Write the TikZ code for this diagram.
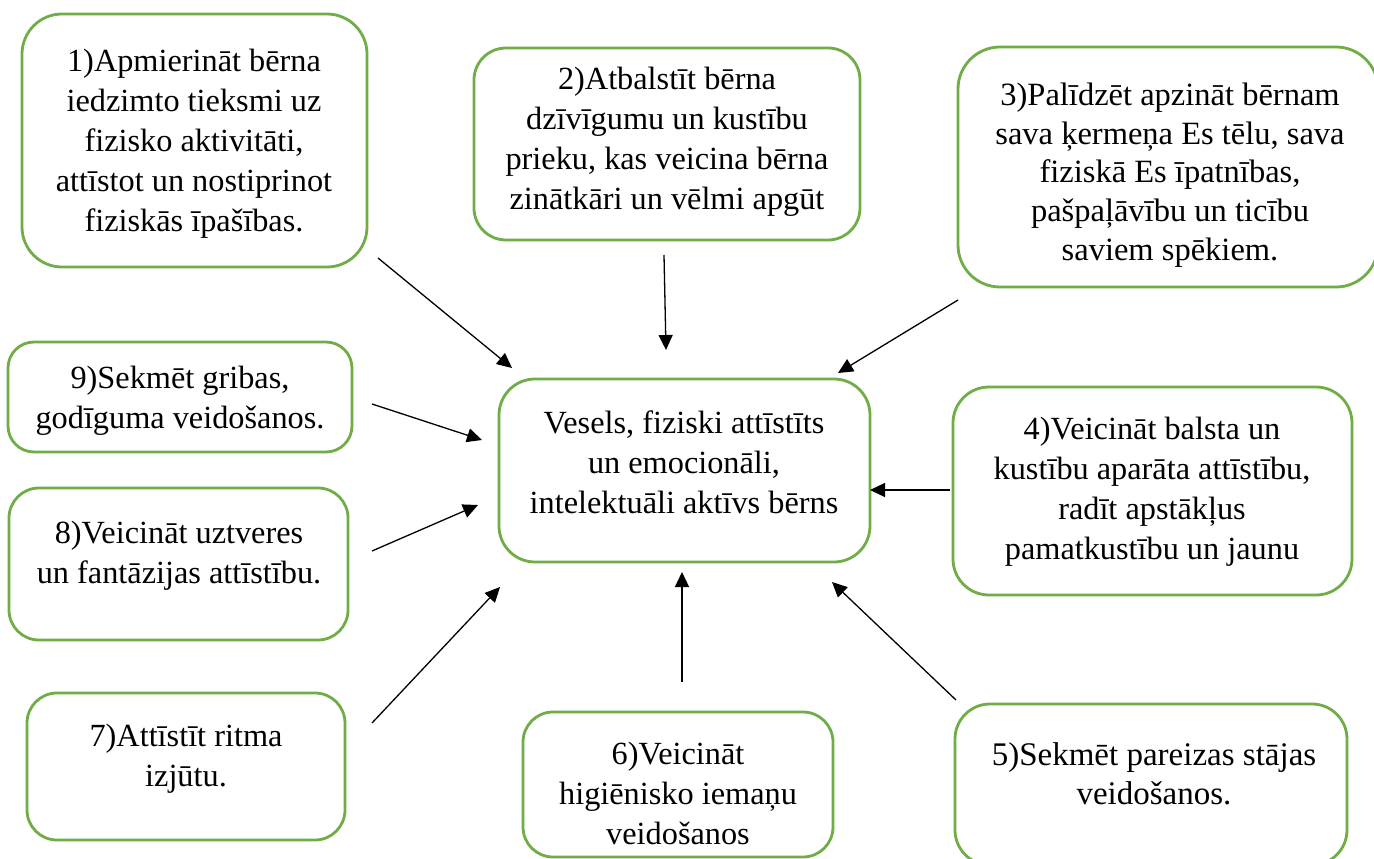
\documentclass[tikz,border=0pt]{standalone}
\usepackage{fontspec}
\setmainfont{Liberation Serif}
\usetikzlibrary{arrows.meta}
\definecolor{boxgreen}{HTML}{70AD47}
\tikzset{
  box/.style={draw=boxgreen, line width=2.8pt, fill=white, inner sep=0pt, rectangle},
  txt/.style={align=center, inner sep=0pt, font=\fontsize{32.3}{40}\selectfont},
  txtthree/.style={align=center, inner sep=0pt, font=\fontsize{32.5}{38.7}\selectfont},
  txtmid/.style={align=center, inner sep=0pt, font=\fontsize{33}{39.5}\selectfont},
  arr/.style={line width=1.3pt, -{Triangle[length=15pt,width=14pt]}}
}
\begin{document}
\begin{tikzpicture}[x=1pt,y=-1pt]
\clip (0,0) rectangle (1374,859);
\fill[white] (0,0) rectangle (1374,859);
% boxes
\node[box, minimum width=345pt, minimum height=253pt, rounded corners=40pt] (b1) at (194.5,140.5) {};
\node[box, minimum width=386pt, minimum height=192pt, rounded corners=32pt] (b2) at (667,144) {};
\node[box, minimum width=420pt, minimum height=240pt, rounded corners=42pt] (b3) at (1168,167) {};
\node[box, minimum width=371pt, minimum height=183pt, rounded corners=36pt] (bc) at (684.5,470.5) {};
\node[box, minimum width=399pt, minimum height=208pt, rounded corners=36pt] (b4) at (1152.5,491) {};
\node[box, minimum width=344pt, minimum height=110pt, rounded corners=26pt] (b9) at (180,397) {};
\node[box, minimum width=339pt, minimum height=152pt, rounded corners=30pt] (b8) at (178.5,564) {};
\node[box, minimum width=318pt, minimum height=147pt, rounded corners=30pt] (b7) at (186,766.5) {};
\node[box, minimum width=310pt, minimum height=145pt, rounded corners=30pt] (b6) at (678,784.5) {};
\node[box, minimum width=392pt, minimum height=161pt, rounded corners=35pt] (b5) at (1151,784.5) {};
% texts
\node[txt] (t1) at (194,144) {1)Apmierināt bērna\\iedzimto tieksmi uz\\fizisko aktivitāti,\\attīstot un nostiprinot\\fiziskās īpašības.};
\node[txt] (t2) at (667,142) {2)Atbalstīt bērna\\dzīvīgumu un kustību\\prieku, kas veicina bērna\\zinātkāri un vēlmi apgūt};
\node[txtthree] (t3) at (1170,175) {3)Palīdzēt apzināt bērnam\\sava ķermeņa Es tēlu, sava\\fiziskā Es īpatnības,\\pašpaļāvību un ticību\\saviem spēkiem.};
\node[txt] (tc) at (684,462) {Vesels, fiziski attīstīts\\un emocionāli,\\intelektuāli aktīvs bērns};
\node[txt] (t4) at (1152,492) {4)Veicināt balsta un\\kustību aparāta attīstību,\\radīt apstākļus\\pamatkustību un jaunu};
\node[txt] (t9) at (180,401) {9)Sekmēt gribas,\\godīguma veidošanos.};
\node[txt] (t8) at (179,556) {8)Veicināt uztveres\\un fantāzijas attīstību.};
\node[txt] (t7) at (186,759) {7)Attīstīt ritma\\izjūtu.};
\node[txt] (t6) at (678,793) {6)Veicināt\\higiēnisko iemaņu\\veidošanos};
\node[txtmid] (t5) at (1154,774) {5)Sekmēt pareizas stājas\\veidošanos.};
% arrow end points
\coordinate (s1) at (378,258);  \coordinate (e1) at (512,368);
\coordinate (s2) at (664,255);  \coordinate (e2) at (666,350);
\coordinate (s3) at (958,300);  \coordinate (e3) at (838,373);
\coordinate (s9) at (372,404);  \coordinate (e9) at (482,440);
\coordinate (s8) at (372,551);  \coordinate (e8) at (478,505);
\coordinate (s7) at (372,723);  \coordinate (e7) at (500,587);
\coordinate (s6) at (682,682);  \coordinate (e6) at (682,572);
\coordinate (s5) at (956,700);  \coordinate (e5) at (832,582);
\coordinate (s4) at (950,490);  \coordinate (e4) at (870,490);
\foreach \i in {1,2,3,4,5,6,7,8,9} {
  \draw[arr] (s\i) -- (e\i);
}
\end{tikzpicture}
\end{document}
